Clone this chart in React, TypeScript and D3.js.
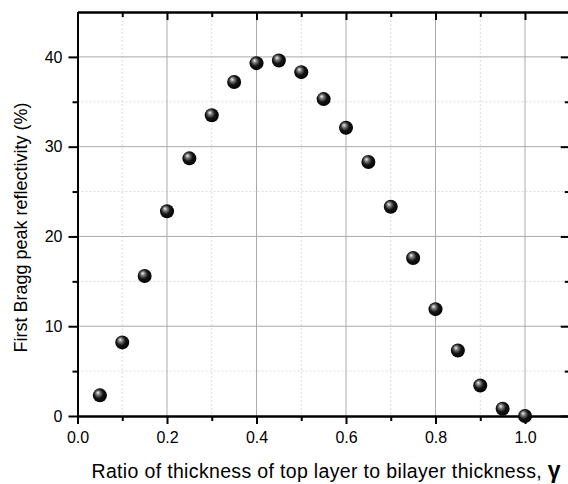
import React, { useRef, useEffect } from 'react';
import * as d3 from 'd3';

const gammaValues = [0.05, 0.1, 0.15, 0.2, 0.25, 0.3, 0.35, 0.4, 0.45, 0.5, 0.55, 0.6, 0.65, 0.7, 0.75, 0.8, 0.85, 0.9, 0.95, 1.0];
const reflectivity = [2.3, 8.2, 15.6, 22.8, 28.7, 33.5, 37.2, 39.3, 39.6, 38.3, 35.3, 32.1, 28.3, 23.3, 17.6, 11.9, 7.3, 3.4, 0.8, 0.0];
const xMajorTicks = [0, 0.2, 0.4, 0.6, 0.8, 1.0];
const xMinorTicks = [0.1, 0.3, 0.5, 0.7, 0.9];
const yMajorTicks = [0, 10, 20, 30, 40];
const yMinorTicks = [5, 15, 25, 35];
const xTitle = 'Ratio of thickness of top layer to bilayer thickness, ';
const yTitle = 'First Bragg peak reflectivity (%)';

const W = 568;
const H = 484;
const FONT = 'Liberation Sans, Arial, sans-serif';

const App = () => {
  const svgRef = useRef<SVGSVGElement>(null);

  useEffect(() => {
    const svg = d3.select(svgRef.current);
    svg.selectAll('*').remove();

    const left = 77.5, top = 12, bottom = 416;
    const x = d3.scaleLinear().domain([0, 1.1]).range([left, left + 1.1 * 447.5]);
    const y = d3.scaleLinear().domain([0, 45]).range([bottom, top]);
    const right = x(1.1);

    const defs = svg.append('defs');
    const grad = defs.append('radialGradient')
      .attr('id', 'ball')
      .attr('cx', '45%').attr('cy', '45%').attr('r', '60%')
      .attr('fx', '35%').attr('fy', '30%');
    grad.append('stop').attr('offset', '0%').attr('stop-color', '#f4f4f4');
    grad.append('stop').attr('offset', '25%').attr('stop-color', '#7a7a7a');
    grad.append('stop').attr('offset', '55%').attr('stop-color', '#151515');
    grad.append('stop').attr('offset', '100%').attr('stop-color', '#000');

    // grid
    const grid = svg.append('g');
    grid.selectAll('.vminor').data(xMinorTicks).enter().append('line')
      .attr('x1', d => x(d)).attr('x2', d => x(d)).attr('y1', top).attr('y2', bottom)
      .attr('stroke', '#dcdcdc').attr('stroke-dasharray', '2,2');
    grid.selectAll('.hminor').data(yMinorTicks).enter().append('line')
      .attr('y1', d => y(d)).attr('y2', d => y(d)).attr('x1', left).attr('x2', right)
      .attr('stroke', '#dcdcdc').attr('stroke-dasharray', '2,2');
    grid.selectAll('.vmajor').data(xMajorTicks.filter(d => d > 0)).enter().append('line')
      .attr('x1', d => x(d)).attr('x2', d => x(d)).attr('y1', top).attr('y2', bottom)
      .attr('stroke', '#ababab');
    grid.selectAll('.hmajor').data(yMajorTicks.filter(d => d > 0)).enter().append('line')
      .attr('y1', d => y(d)).attr('y2', d => y(d)).attr('x1', left).attr('x2', right)
      .attr('stroke', '#ababab');

    // axes
    const xBottom = d3.axisBottom(x).tickValues(xMajorTicks).tickFormat(d3.format('.1f')).tickSizeInner(8).tickSizeOuter(0).tickPadding(8);
    const xBottomMinor = d3.axisBottom(x).tickValues(xMinorTicks).tickFormat(() => '').tickSizeInner(5).tickSizeOuter(0);
    const xTop = d3.axisBottom(x).tickValues(xMajorTicks).tickFormat(() => '').tickSizeInner(8).tickSizeOuter(0);
    const xTopMinor = d3.axisBottom(x).tickValues(xMinorTicks).tickFormat(() => '').tickSizeInner(5).tickSizeOuter(0);
    const yLeft = d3.axisLeft(y).tickValues(yMajorTicks).tickFormat(d3.format('d')).tickSizeInner(9).tickSizeOuter(0).tickPadding(6);
    const yLeftMinor = d3.axisLeft(y).tickValues(yMinorTicks).tickFormat(() => '').tickSizeInner(5).tickSizeOuter(0);
    const yRight = d3.axisLeft(y).tickValues(yMajorTicks).tickFormat(() => '').tickSizeInner(9).tickSizeOuter(0);
    const yRightMinor = d3.axisLeft(y).tickValues(yMinorTicks).tickFormat(() => '').tickSizeInner(5).tickSizeOuter(0);

    const axes = [
      svg.append('g').attr('transform', `translate(0,${bottom})`).call(xBottom),
      svg.append('g').attr('transform', `translate(0,${bottom})`).call(xBottomMinor),
      svg.append('g').attr('transform', `translate(0,${top})`).call(xTop),
      svg.append('g').attr('transform', `translate(0,${top})`).call(xTopMinor),
      svg.append('g').attr('transform', `translate(${left},0)`).call(yLeft),
      svg.append('g').attr('transform', `translate(${left},0)`).call(yLeftMinor),
      svg.append('g').attr('transform', `translate(${right},0)`).call(yRight),
      svg.append('g').attr('transform', `translate(${right},0)`).call(yRightMinor),
    ];
    axes.forEach(g => {
      g.selectAll('.domain').attr('stroke', '#000').attr('stroke-width', 2);
      g.selectAll('.tick line').attr('stroke', '#000').attr('stroke-width', 2);
      g.selectAll('text').attr('fill', '#000').style('font-size', '16px').style('font-family', FONT);
    });
    // top and right axes have inward ticks
    axes[2].selectAll('.tick line').attr('y2', 8);
    axes[3].selectAll('.tick line').attr('y2', 5);
    axes[6].selectAll('.tick line').attr('x2', -9);
    axes[7].selectAll('.tick line').attr('x2', -5);

    // points
    svg.append('g').selectAll('circle').data(gammaValues).enter().append('circle')
      .attr('cx', d => x(d))
      .attr('cy', (d, i) => y(reflectivity[i]))
      .attr('r', 7)
      .attr('fill', 'url(#ball)');

    // titles
    const xt = svg.append('text')
      .attr('x', 91.5).attr('y', 478)
      .style('font-family', FONT)
      .attr('fill', '#000');
    xt.append('tspan').text(xTitle).style('font-size', '19.5px').style('letter-spacing', '0.34px');
    xt.append('tspan').text('γ').style('font-weight', 'bold').style('font-size', '23px');

    svg.append('text')
      .attr('transform', `translate(27,227.5) rotate(-90)`)
      .attr('text-anchor', 'middle')
      .style('font-family', FONT)
      .style('font-size', '18px').attr('fill', '#000')
      .text(yTitle);
  }, []);

  return (
    <svg ref={svgRef} width={W} height={H}
      style={{ position: 'absolute', left: 0, top: 0, background: '#fff', display: 'block' }} />
  );
};

export default App;
